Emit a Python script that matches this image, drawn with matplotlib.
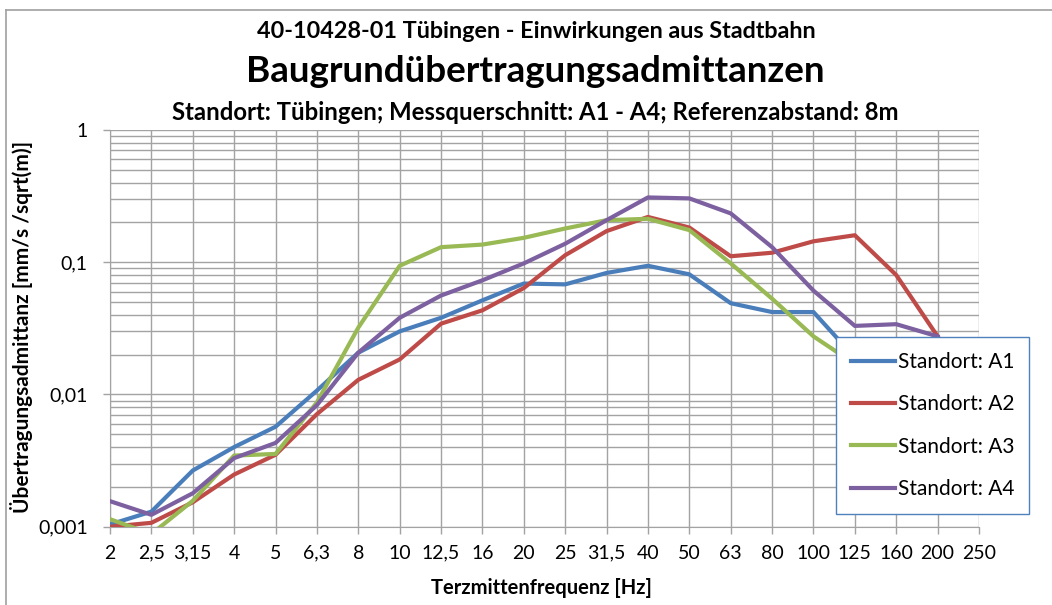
import numpy as np
import matplotlib
matplotlib.use("Agg")
import matplotlib.pyplot as plt
from matplotlib.lines import Line2D
from matplotlib.ticker import FixedLocator, NullFormatter

plt.rcParams['font.family'] = ['Lato', 'DejaVu Sans']

freq_labels = ["2", "2,5", "3,15", "4", "5", "6,3", "8", "10", "12,5", "16", "20",
               "25", "31,5", "40", "50", "63", "80", "100", "125", "160", "200", "250"]

# values through 200 Hz (values behind the legend are estimates)
a1 = [0.00104, 0.0013, 0.00266, 0.0040, 0.0057, 0.0107, 0.0207, 0.030, 0.038, 0.0515, 0.069,
      0.068, 0.083, 0.094, 0.081, 0.049, 0.042, 0.042, 0.019, 0.016, 0.014]
a2 = [0.0010, 0.00107, 0.00153, 0.00248, 0.0035, 0.0071, 0.0129, 0.0184, 0.0343, 0.0433, 0.0638,
      0.113, 0.172, 0.220, 0.183, 0.111, 0.118, 0.144, 0.160, 0.080, 0.0275]
a3 = [0.00114, 0.00088, 0.00157, 0.00345, 0.00355, 0.0087, 0.032, 0.094, 0.130, 0.136, 0.153,
      0.180, 0.208, 0.213, 0.175, 0.098, 0.053, 0.0275, 0.017, 0.013, 0.011]
a4 = [0.00156, 0.00123, 0.00179, 0.0033, 0.0043, 0.0083, 0.0207, 0.038, 0.056, 0.073, 0.098,
      0.138, 0.208, 0.309, 0.304, 0.234, 0.130, 0.061, 0.033, 0.034, 0.0275]

series = [("Standort: A1", a1, "#4A7EBB"),
          ("Standort: A2", a2, "#BE4B48"),
          ("Standort: A3", a3, "#98B954"),
          ("Standort: A4", a4, "#7D60A0")]

W, H = 1052, 605
fig = plt.figure(figsize=(W / 100, H / 100), dpi=100)
ax = fig.add_axes([110 / W, 1 - 526.7 / H, (979 - 110) / W, (526.7 - 130) / H])

grid_c = "#A3A3A3"
for name, vals, col in series:
    ax.plot(np.arange(len(vals)), vals, color=col, lw=3, label=name,
            solid_joinstyle="round", zorder=3)

ax.set_yscale("log")
ax.set_ylim(0.001, 1)
ax.set_xlim(0, len(freq_labels) - 1)

ax.yaxis.set_major_locator(FixedLocator([0.001, 0.01, 0.1, 1]))
ax.set_yticklabels(["0,001", "0,01", "0,1", "1"])
minor = [m * 10.0 ** e for e in range(-3, 0) for m in range(2, 10)]
ax.yaxis.set_minor_locator(FixedLocator(minor))
ax.yaxis.set_minor_formatter(NullFormatter())

ax.set_xticks(np.arange(len(freq_labels)))
ax.set_xticklabels(freq_labels)

ax.grid(True, which="major", axis="both", color=grid_c, lw=1)
ax.grid(True, which="minor", axis="y", color=grid_c, lw=1)
ax.set_axisbelow(True)

for s in ["top", "right"]:
    ax.spines[s].set_visible(False)
ax.spines["left"].set_color(grid_c)
ax.spines["bottom"].set_color(grid_c)
ax.tick_params(axis="both", which="major", length=5, color=grid_c, width=1,
               labelsize=14, labelcolor="black")
ax.tick_params(axis="x", which="major", pad=8)
ax.tick_params(axis="y", which="major", pad=11)
ax.tick_params(axis="y", which="minor", length=0)

# titles and axis labels
fig.text(536 / W, 1 - 31 / H, "40-10428-01 Tübingen - Einwirkungen aus Stadtbahn",
         ha="center", va="center", fontsize=16.8, weight="bold")
fig.text(535 / W, 1 - 72 / H, "Baugrundübertragungsadmittanzen",
         ha="center", va="center", fontsize=26.5, weight="bold")
fig.text(535 / W, 1 - 112 / H, "Standort: Tübingen; Messquerschnitt: A1 - A4; Referenzabstand: 8m",
         ha="center", va="center", fontsize=17.2, weight="bold")
fig.text(22 / W, 1 - 327 / H, "Übertragungsadmittanz [mm/s /sqrt(m)]",
         ha="center", va="center", rotation=90, fontsize=15, weight="bold")
fig.text(541 / W, 1 - 588 / H, "Terzmittenfrequenz [Hz]",
         ha="center", va="center", fontsize=14.5, weight="bold")

# chart area border
fig.add_artist(Line2D([6 / W, 6 / W], [0, 1 - 10 / H], transform=fig.transFigure,
                      color="#A0A0A0", lw=1.2))
fig.add_artist(Line2D([6 / W, 1], [1 - 10 / H, 1 - 10 / H], transform=fig.transFigure,
                      color="#A0A0A0", lw=1.2))

leg = ax.legend(loc="upper left", bbox_to_anchor=(836 / W, 1 - 337 / H),
                bbox_transform=fig.transFigure, fontsize=15, frameon=True,
                fancybox=False, framealpha=1, edgecolor="#4F81BD",
                handlelength=2.1, handletextpad=0.15, labelspacing=1.07,
                borderpad=0.72, borderaxespad=0)
leg.get_frame().set_linewidth(1)
leg.set_zorder(10)

fig.savefig("out.png", dpi=100)
